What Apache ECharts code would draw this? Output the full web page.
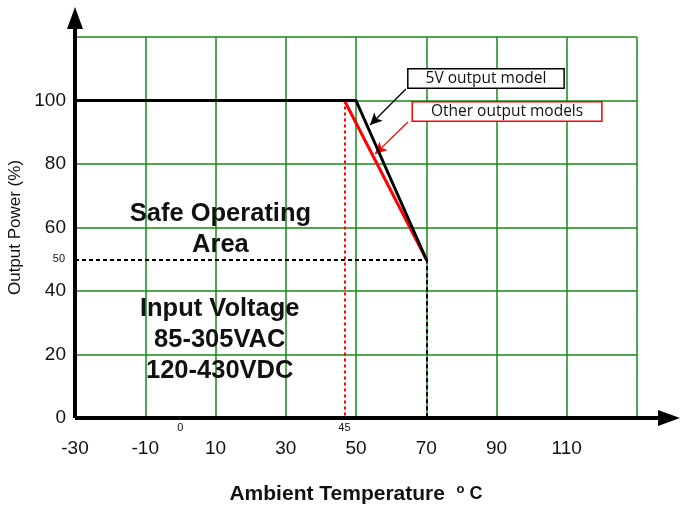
<!DOCTYPE html>
<html><head><meta charset="utf-8">
<script src="https://cdn.jsdelivr.net/npm/echarts@6/dist/echarts.min.js"></script>
<style>html,body{margin:0;padding:0;background:#fff}#c{width:681px;height:507px}</style>
</head><body><div id="c"></div>
<script>
// ---- data ----
const xMin = -30, xMax = 130, xStep = 20;
const yMin = 0, yMax = 120, yStep = 20;
const xTickLabels = [-30, -10, 10, 30, 50, 70, 90, 110];
const yTickLabels = [0, 20, 40, 60, 80, 100];
const fiveV = [[-30, 100], [50, 100], [70, 50]];
const otherModels = [[46.7, 100], [70, 50]];
const redDerateStart = 46.7;   // drawn position of the "45" marker
const halfLoad = 50;
const fullTemp = 70;
const smallLabels = [{text: '0', at: [0, 0]}, {text: '45', at: [46.7, 0]}];
const halfLabel = {text: '50', at: [-30, 50]};
const zoneTitle = 'Safe Operating\nArea';
const zoneTitlePos = [11.4, 59.4];
const inputText = 'Input Voltage\n85-305VAC\n120-430VDC';
const inputTextPos = [11.2, 24.7];
const callout5V = {text: '5V output model', box: [87.0, 106.9], from: [64.2, 103.6], to: [54.0, 92.3]};
const calloutOther = {text: 'Other output models', box: [93.0, 96.5], from: [64.8, 93.2], to: [55.4, 83.1]};

// ---- layout ----
const W = 681, H = 507;
const G = {left: 75, right: 44, top: 37, bottom: 89};
const G2 = {left: 75, right: 1, top: 7, bottom: 89};   // wider frame for axis arrows
const pxPerX = (W - G.left - G.right) / (xMax - xMin);
const pxPerY = (H - G.top - G.bottom) / (yMax - yMin);
const x2Max = xMin + (W - G2.left - G2.right) / pxPerX;
const y2Max = yMin + (H - G2.top - G2.bottom) / pxPerY;
const ARROW_LEN = 22;
const xArrowEnd = x2Max - (ARROW_LEN / 2) / pxPerX;
const yArrowEnd = y2Max - (ARROW_LEN / 2) / pxPerY;

const chart = echarts.init(document.getElementById('c'));
const FONT = 'Liberation Sans, Arial, sans-serif';
const NOTE_FONT = 'Open Sans, Noto Sans, sans-serif';
const GREEN = '#168a16';

const option = {
  animation: false,
  backgroundColor: '#fff',
  grid: [
    Object.assign({outerBoundsMode: 'none', containLabel: false}, G),
    Object.assign({outerBoundsMode: 'none', containLabel: false}, G2)
  ],
  xAxis: [{
    type: 'value', min: xMin, max: xMax, interval: xStep, gridIndex: 0,
    axisLine: {show: false}, axisTick: {show: false},
    axisLabel: {
      margin: 21, fontSize: 19, color: '#111', fontFamily: FONT,
      formatter: v => xTickLabels.includes(v) ? String(v) : ''
    },
    splitLine: {show: true, lineStyle: {color: GREEN, width: 1.5}},
    name: '{b|Ambient Temperature  }{s|o}{c| C}',
    nameLocation: 'middle', nameGap: 65,
    nameTextStyle: {
      rich: {
        b: {fontSize: 21, fontWeight: 'bold', fontFamily: FONT, color: '#111'},
        s: {fontSize: 13, fontWeight: 'bold', fontFamily: FONT, color: '#111', verticalAlign: 'top', padding: [0, 0, 9, 0]},
        c: {fontSize: 18, fontWeight: 'bold', fontFamily: FONT, color: '#111'}
      }
    }
  }, {
    type: 'value', min: xMin, max: x2Max, gridIndex: 1, show: false
  }],
  yAxis: [{
    type: 'value', min: yMin, max: yMax, interval: yStep, gridIndex: 0,
    axisLine: {show: false}, axisTick: {show: false},
    axisLabel: {
      margin: 9, fontSize: 19, color: '#111', fontFamily: FONT,
      formatter: v => yTickLabels.includes(v) ? String(v) : ''
    },
    splitLine: {show: true, lineStyle: {color: GREEN, width: 1.5}},
    name: 'Output Power (%)', nameLocation: 'middle', nameGap: 45,
    nameTextStyle: {fontSize: 17, fontFamily: FONT, color: '#111'}
  }, {
    type: 'value', min: yMin, max: y2Max, gridIndex: 1, show: false
  }],
  series: [
    {
      name: 'Other output models', type: 'line', data: otherModels, symbol: 'none', z: 4,
      lineStyle: {color: '#ff0000', width: 3}
    },
    {
      name: '5V output model', type: 'line', data: fiveV, symbol: 'none', z: 5,
      lineStyle: {color: '#000', width: 3}
    },
    {
      name: 'axes', type: 'line', data: [], xAxisIndex: 1, yAxisIndex: 1, z: 7, silent: true,
      markLine: {
        silent: true, animation: false, label: {show: false},
        data: [
          [{coord: [xMin, 0], symbol: 'none', lineStyle: {color: '#000', width: 4, type: 'solid'}},
           {coord: [xArrowEnd, 0], symbol: 'triangle', symbolSize: [16, ARROW_LEN]}],
          [{coord: [xMin, 0], symbol: 'none', lineStyle: {color: '#000', width: 4, type: 'solid'}},
           {coord: [xMin, yArrowEnd], symbol: 'triangle', symbolSize: [16, ARROW_LEN]}]
        ]
      }
    },
    {
      name: 'decor', type: 'line', data: [], z: 6, silent: true,
      markLine: {
        silent: true, animation: false, label: {show: false},
        data: [
          [{coord: [redDerateStart, 100], symbol: 'none', lineStyle: {color: '#ff0000', width: 2, type: [3, 3]}},
           {coord: [redDerateStart, 0], symbol: 'none'}],
          [{coord: [xMin, halfLoad], symbol: 'none', lineStyle: {color: '#000', width: 2, type: [4, 3]}},
           {coord: [fullTemp, halfLoad], symbol: 'none'}],
          [{coord: [fullTemp, halfLoad], symbol: 'none', lineStyle: {color: '#000', width: 2, type: [4, 3]}},
           {coord: [fullTemp, 0], symbol: 'none'}],
          [{coord: callout5V.from, symbol: 'none', lineStyle: {color: '#000', width: 1.3, type: 'solid'}},
           {coord: callout5V.to, symbol: 'arrow', symbolSize: [9, 12]}],
          [{coord: calloutOther.from, symbol: 'none', lineStyle: {color: '#ff0000', width: 1.3, type: 'solid'}},
           {coord: calloutOther.to, symbol: 'arrow', symbolSize: [9, 12]}]
        ]
      },
      markPoint: {
        silent: true, animation: false,
        data: [
          {coord: callout5V.box, symbol: 'rect', symbolSize: 0,
           label: {show: true, position: 'inside', formatter: callout5V.text, fontFamily: NOTE_FONT, fontSize: 15.5, color: '#111',
                   backgroundColor: '#fff', borderColor: '#000', borderWidth: 1.5, padding: [1, 17, 1, 17]}},
          {coord: calloutOther.box, symbol: 'rect', symbolSize: 0,
           label: {show: true, position: 'inside', formatter: calloutOther.text, fontFamily: NOTE_FONT, fontSize: 15.5, color: '#111',
                   backgroundColor: '#fff', borderColor: '#ff0000', borderWidth: 1.5, padding: [1, 18, 1, 18]}},
          {coord: zoneTitlePos, symbol: 'rect', symbolSize: 0,
           label: {show: true, position: 'inside', formatter: zoneTitle, fontFamily: FONT, fontWeight: 'bold', fontSize: 25.5,
                   lineHeight: 31, color: '#111', align: 'center'}},
          {coord: inputTextPos, symbol: 'rect', symbolSize: 0,
           label: {show: true, position: 'inside', formatter: inputText, fontFamily: FONT, fontWeight: 'bold', fontSize: 25.5,
                   lineHeight: 31, color: '#111', align: 'center'}},
          ...smallLabels.map(s => ({coord: s.at, symbol: 'rect', symbolSize: 0,
           label: {show: true, position: 'bottom', distance: 4, formatter: s.text, fontFamily: FONT, fontSize: 11, color: '#111'}})),
          {coord: halfLabel.at, symbol: 'rect', symbolSize: 0,
           label: {show: true, position: 'left', distance: 10, formatter: halfLabel.text, fontFamily: FONT, fontSize: 11, color: '#111'}}
        ]
      }
    }
  ]
};
chart.setOption(option);
</script></body></html>
